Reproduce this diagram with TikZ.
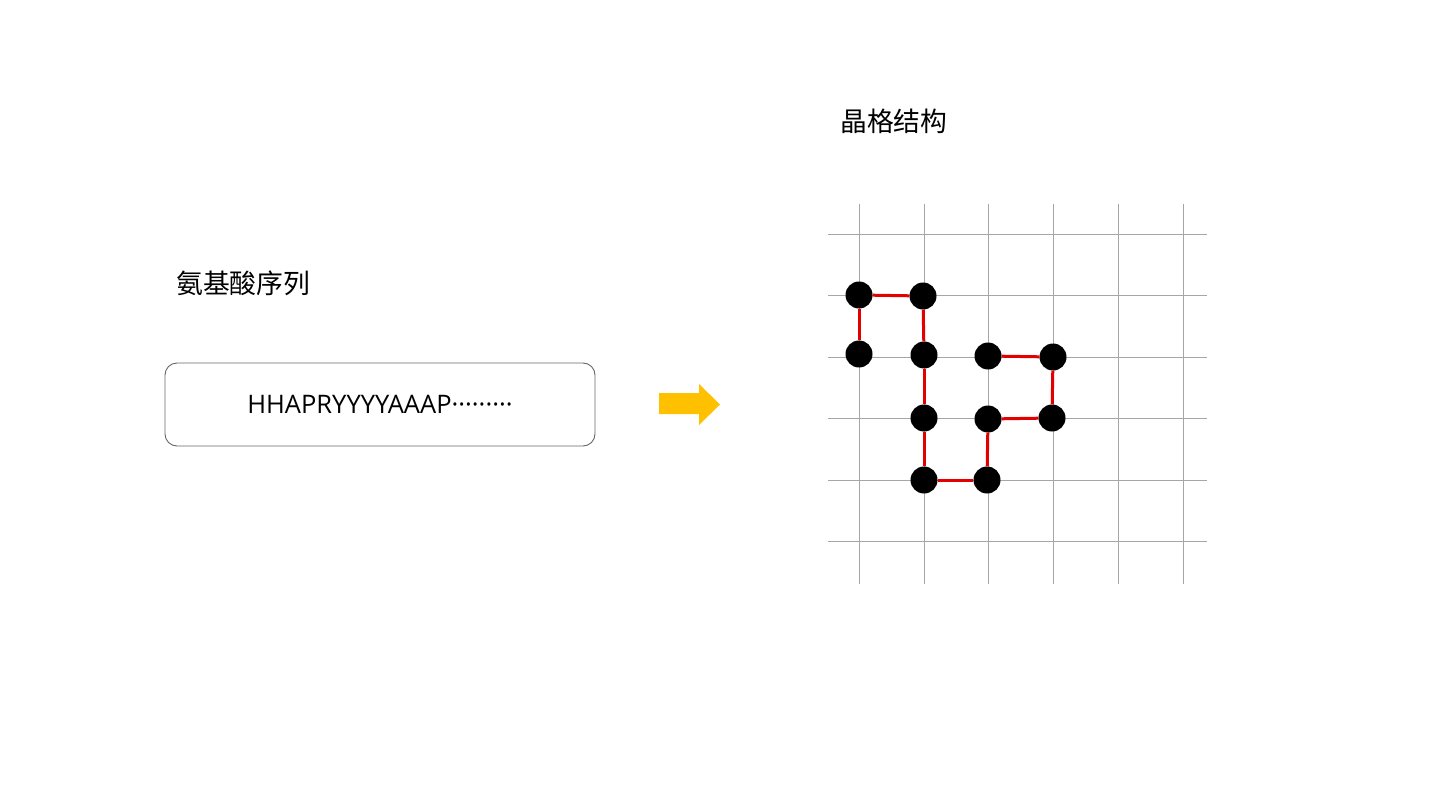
\documentclass[tikz,border=0pt]{standalone}
\usepackage{fontspec}
\setmainfont{Open Sans}
\newfontfamily\cjk{Noto Sans CJK SC}
\begin{document}
\begin{tikzpicture}[x=1pt,y=-1pt,
  gridline/.style={draw=black!35,line width=0.9pt},
  bond/.style={draw=red!90!black,line width=3pt},
  bead/.style={circle,fill=black,minimum size=27pt,inner sep=0pt},
  lbl/.style={font=\cjk\fontsize{26.8}{30}\selectfont,anchor=west,inner sep=0pt}]
\useasboundingbox (0,0) rectangle (1440,810);
% labels
\node[lbl] (t1) at (176,283) {氨基酸序列};
\node[lbl] (t2) at (840,121) {晶格结构};
% sequence box
\node[draw=black!60,line width=0.9pt,rounded corners=12pt,minimum width=430pt,minimum height=83pt,inner sep=0pt,
  font=\fontsize{25.5}{28}\selectfont] (seq) at (380,404.5) {HHAPRYYYYAAAP·········};
% arrow
\fill[fill={rgb,255:red,255;green,192;blue,0}] (659,393) -- (699,393) -- (699,384) -- (720,404.5) -- (699,425) -- (699,414) -- (659,414) -- cycle;
% grid
\foreach \x in {859,924,988,1053,1118,1183} \draw[gridline] (\x,204) -- (\x,584);
\foreach \y in {234,295,357,418,480,541} \draw[gridline] (828,\y) -- (1207,\y);
% beads
\node[bead] (b1) at (859,354) {};
\node[bead] (b2) at (859,295) {};
\node[bead] (b3) at (923,296) {};
\node[bead] (b4) at (924,355) {};
\node[bead] (b5) at (924,418) {};
\node[bead] (b6) at (924,480) {};
\node[bead] (b7) at (987,480) {};
\node[bead] (b8) at (988,419) {};
\node[bead] (b9) at (1052,418) {};
\node[bead] (b10) at (1053,357) {};
\node[bead] (b11) at (988,356) {};
\foreach \a/\b in {b1/b2,b2/b3,b3/b4,b4/b5,b5/b6,b6/b7,b7/b8,b8/b9,b9/b10,b10/b11}
  \draw[bond] (\a) -- (\b);
\end{tikzpicture}
\end{document}
